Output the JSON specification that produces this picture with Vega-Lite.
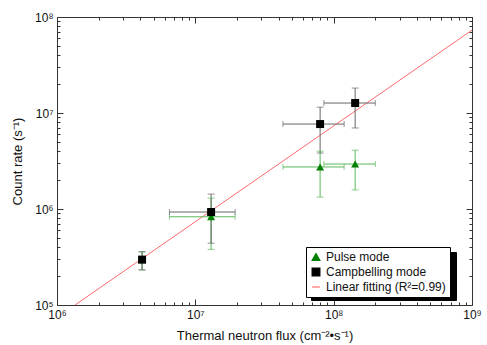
{
  "$schema": "https://vega.github.io/schema/vega-lite/v6.json",
  "width": 415,
  "height": 288,
  "autosize": "none",
  "padding": {"left": 57, "top": 17, "right": 15, "bottom": 40},
  "background": "white",
  "config": {
    "view": {"stroke": null},
    "font": "Liberation Sans",
    "axis": {"grid": false, "domainColor": "#333", "tickColor": "#333", "labelColor": "#111", "titleColor": "#111", "labelFont": "Liberation Sans", "titleFont": "Liberation Sans", "labelFontSize": 12, "titleFontSize": 13, "titleFontWeight": "normal", "labelFlush": false, "labelOverlap": false}
  },
  "datasets": {
    "pts": [
      {"series": "Pulse mode", "x": 4120000, "y": 295000, "xlo": null, "xhi": null, "ylo": 232000, "yhi": 356000},
      {"series": "Pulse mode", "x": 13000000, "y": 830000, "xlo": 6500000, "xhi": 19400000, "ylo": 380000, "yhi": 1300000},
      {"series": "Pulse mode", "x": 79800000, "y": 2740000, "xlo": 43000000, "xhi": 119000000, "ylo": 1330000, "yhi": 4000000},
      {"series": "Pulse mode", "x": 143000000, "y": 2940000, "xlo": 85000000, "xhi": 200000000, "ylo": 1580000, "yhi": 4100000},
      {"series": "Campbelling mode", "x": 4120000, "y": 297000, "xlo": null, "xhi": null, "ylo": 232000, "yhi": 360000},
      {"series": "Campbelling mode", "x": 13000000, "y": 930000, "xlo": 6500000, "xhi": 19400000, "ylo": 440000, "yhi": 1430000},
      {"series": "Campbelling mode", "x": 79800000, "y": 7670000, "xlo": 43000000, "xhi": 119000000, "ylo": 3830000, "yhi": 11500000},
      {"series": "Campbelling mode", "x": 143000000, "y": 12700000, "xlo": 85000000, "xhi": 200000000, "ylo": 6980000, "yhi": 18200000}
    ],
    "fit": [
      {"series": "Linear fitting (R²=0.99)", "x": 1350000, "y": 100000},
      {"series": "Linear fitting (R²=0.99)", "x": 1000000000, "y": 73000000}
    ]
  },
  "layer": [
    {
      "layer": [
        {
          "data": {"name": "fit"},
          "mark": {"type": "line", "strokeWidth": 1, "clip": true},
          "encoding": {
            "x": {"field": "x", "type": "quantitative", "scale": {"type": "log", "domain": [1000000, 1000000000]},
              "axis": {"orient": "bottom", "title": "Thermal neutron flux (cm⁻²•s⁻¹)", "titlePadding": 6, "values": [1000000,2000000,3000000,4000000,5000000,6000000,7000000,8000000,9000000,10000000,20000000,30000000,40000000,50000000,60000000,70000000,80000000,90000000,100000000,200000000,300000000,400000000,500000000,600000000,700000000,800000000,900000000,1000000000],
                "labelExpr": "datum.value==1e6?'10⁶':datum.value==1e7?'10⁷':datum.value==1e8?'10⁸':datum.value==1e9?'10⁹':''",
                "tickSize": {"condition": {"test": "indexof([1e6,1e7,1e8,1e9], datum.value) >= 0", "value": -6}, "value": -3},
                "labelPadding": 10}},
            "y": {"field": "y", "type": "quantitative", "scale": {"type": "log", "domain": [100000, 100000000]},
              "axis": {"orient": "left", "title": "Count rate (s⁻¹)", "titlePadding": 10, "values": [100000,200000,300000,400000,500000,600000,700000,800000,900000,1000000,2000000,3000000,4000000,5000000,6000000,7000000,8000000,9000000,10000000,20000000,30000000,40000000,50000000,60000000,70000000,80000000,90000000,100000000],
                "labelExpr": "datum.value==1e5?'10⁵':datum.value==1e6?'10⁶':datum.value==1e7?'10⁷':datum.value==1e8?'10⁸':''",
                "tickSize": {"condition": {"test": "indexof([1e5,1e6,1e7,1e8], datum.value) >= 0", "value": -6}, "value": -3},
                "labelPadding": 10}},
            "color": {"field": "series", "type": "nominal", "scale": {"domain": ["Pulse mode", "Campbelling mode", "Linear fitting (R²=0.99)"], "range": ["#008000", "#000000", "#ff6b6b"]},
              "legend": {"title": null, "orient": "none", "legendX": 249, "legendY": 230, "zindex": 2, "fillColor": "white", "strokeColor": "#000", "padding": 4, "labelFontSize": 12, "labelFont": "Liberation Sans", "labelColor": "#111", "symbolSize": 60, "rowPadding": 2, "symbolStrokeWidth": 1.2}},
            "shape": {"field": "series", "type": "nominal", "scale": {"domain": ["Pulse mode", "Campbelling mode", "Linear fitting (R²=0.99)"], "range": ["triangle-up", "square", "stroke"]}, "legend": null}
          }
        },
        {
          "data": {"name": "pts"},
          "transform": [{"filter": "datum.xlo != null"}],
          "mark": {"type": "rule", "strokeWidth": 1},
          "encoding": {
            "x": {"field": "xlo", "type": "quantitative"},
            "x2": {"field": "xhi"},
            "y": {"field": "y", "type": "quantitative"},
            "stroke": {"condition": {"test": "datum.series=='Pulse mode'", "value": "#5cb85c"}, "value": "#666"}
          }
        },
        {
          "data": {"name": "pts"},
          "transform": [{"filter": "datum.xlo != null"}, {"fold": ["xlo", "xhi"], "as": ["end", "xe"]}],
          "mark": {"type": "tick", "orient": "vertical", "size": 6, "thickness": 1},
          "encoding": {
            "x": {"field": "xe", "type": "quantitative"},
            "y": {"field": "y", "type": "quantitative"},
            "color": {"condition": {"test": "datum.series=='Pulse mode'", "value": "#5cb85c"}, "value": "#666"}
          }
        },
        {
          "data": {"name": "pts"},
          "mark": {"type": "rule", "strokeWidth": 1},
          "encoding": {
            "x": {"field": "x", "type": "quantitative"},
            "y": {"field": "ylo", "type": "quantitative"},
            "y2": {"field": "yhi"},
            "stroke": {"condition": {"test": "datum.series=='Pulse mode'", "value": "#5cb85c"}, "value": "#666"}
          }
        },
        {
          "data": {"name": "pts"},
          "transform": [{"fold": ["ylo", "yhi"], "as": ["end", "ye"]}],
          "mark": {"type": "tick", "orient": "horizontal", "size": 7, "thickness": 1},
          "encoding": {
            "x": {"field": "x", "type": "quantitative"},
            "y": {"field": "ye", "type": "quantitative"},
            "color": {"condition": {"test": "datum.series=='Pulse mode'", "value": "#5cb85c"}, "value": "#666"}
          }
        },
        {
          "data": {"name": "pts"},
          "mark": {"type": "point", "filled": true, "opacity": 1, "size": 64},
          "encoding": {
            "x": {"field": "x", "type": "quantitative"},
            "y": {"field": "y", "type": "quantitative"},
            "color": {"field": "series", "type": "nominal"},
            "shape": {"field": "series", "type": "nominal"}
          }
        }
      ]
    },
    {
      "data": {"name": "fit"},
      "mark": {"type": "point", "opacity": 0},
      "encoding": {
        "x": {"field": "x", "type": "quantitative", "axis": {"orient": "top", "title": null, "labels": false, "values": [1000000,2000000,3000000,4000000,5000000,6000000,7000000,8000000,9000000,10000000,20000000,30000000,40000000,50000000,60000000,70000000,80000000,90000000,100000000,200000000,300000000,400000000,500000000,600000000,700000000,800000000,900000000,1000000000],
          "tickSize": {"condition": {"test": "indexof([1e6,1e7,1e8,1e9], datum.value) >= 0", "value": -6}, "value": -3}}},
        "y": {"field": "y", "type": "quantitative", "axis": {"orient": "right", "title": null, "labels": false, "values": [100000,200000,300000,400000,500000,600000,700000,800000,900000,1000000,2000000,3000000,4000000,5000000,6000000,7000000,8000000,9000000,10000000,20000000,30000000,40000000,50000000,60000000,70000000,80000000,90000000,100000000],
          "tickSize": {"condition": {"test": "indexof([1e5,1e6,1e7,1e8], datum.value) >= 0", "value": -6}, "value": -3}}},
        "strokeDash": {"field": "series", "type": "nominal", "scale": {"domain": ["Pulse mode ", "Campbelling mode ", "Linear fitting (R²=0.99) "]},
          "legend": {"title": null, "orient": "none", "legendX": 254, "legendY": 235, "zindex": 1, "fillColor": "#000", "strokeColor": "#000", "padding": 4, "labelFontSize": 12, "labelFont": "Liberation Sans", "labelColor": "#000", "labelExpr": "' '", "labelOffset": 125, "symbolSize": 60, "rowPadding": 2, "symbolOpacity": 0, "symbolStrokeWidth": 1.2}}
      }
    }
  ],
  "resolve": {"axis": {"x": "independent", "y": "independent"}}
}
